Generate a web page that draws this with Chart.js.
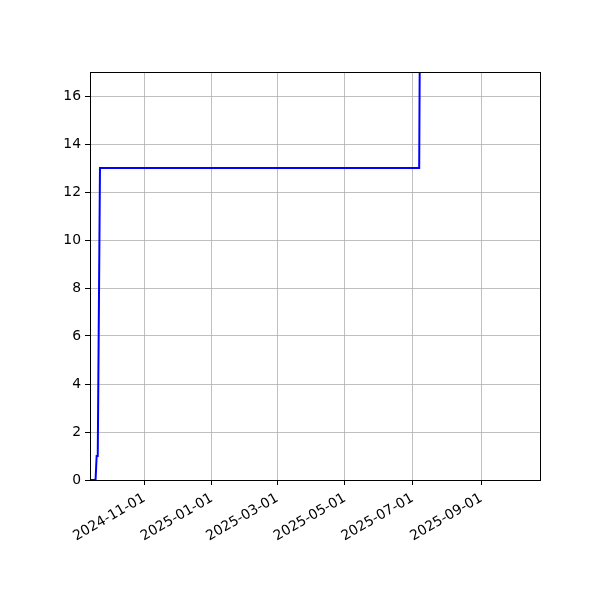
<!DOCTYPE html>
<html>
<head>
<meta charset="utf-8">
<script src="https://cdn.jsdelivr.net/npm/chart.js@4"></script>
<style>
  html, body { margin: 0; padding: 0; background: #fff; }
  #c { display: block; }
</style>
</head>
<body>
<canvas id="c" width="600" height="600"></canvas>
<script>
// ---- data ----
const dates  = ['2024-09-13', '2024-09-18', '2024-09-19', '2024-09-20', '2024-09-22', '2025-07-07', '2025-07-08'];
const values = [0, 0, 1, 1, 13, 13, 22];
const xTickLabels = ['2024-11-01', '2025-01-01', '2025-03-01', '2025-05-01', '2025-07-01', '2025-09-01'];
const yTickValues = [0, 2, 4, 6, 8, 10, 12, 14, 16];
const xRange = ['2024-09-13', '2025-10-24'];
const yRange = [0, 17];

const points = dates.map((d, i) => ({ x: Date.parse(d), y: values[i] }));

const frame = {
  id: 'frame',
  afterDraw(chart) {
    const a = chart.chartArea, ctx = chart.ctx;
    ctx.save();
    ctx.strokeStyle = '#000';
    ctx.lineWidth = 1;
    ctx.strokeRect(Math.round(a.left) + 0.5, Math.round(a.top) + 0.5,
                   Math.round(a.right - a.left), Math.round(a.bottom - a.top));
    ctx.restore();
  }
};

const font = { family: 'DejaVu Sans', size: 13.9 };

new Chart(document.getElementById('c'), {
  type: 'line',
  data: {
    datasets: [{
      data: points,
      borderColor: '#0000ff',
      borderWidth: 2,
      pointRadius: 0,
      fill: false,
      tension: 0
    }]
  },
  options: {
    responsive: false,
    animation: false,
    devicePixelRatio: 1,
    layout: { padding: { left: 0, right: 60, top: 72, bottom: 0 } },
    plugins: { legend: { display: false }, tooltip: { enabled: false } },
    scales: {
      x: {
        type: 'linear',
        min: Date.parse(xRange[0]),
        max: Date.parse(xRange[1]),
        afterBuildTicks(scale) {
          scale.ticks = xTickLabels.map(s => ({ value: Date.parse(s) }));
        },
        afterFit(scale) { scale.height = 120; },
        ticks: {
          autoSkip: false,
          maxRotation: 30,
          minRotation: 30,
          color: '#000',
          font: font,
          padding: 5,
          callback: (v) => new Date(v).toISOString().slice(0, 10)
        },
        grid: { color: '#b0b0b0', lineWidth: 0.8, tickColor: '#000', tickLength: 5, tickWidth: 1 },
        border: { display: true, color: '#000' }
      },
      y: {
        min: yRange[0],
        max: yRange[1],
        afterBuildTicks(scale) {
          scale.ticks = yTickValues.map(v => ({ value: v }));
        },
        ticks: { color: '#000', font: font, padding: 4 },
        afterFit(scale) { scale.width = 90; },
        grid: { color: '#b0b0b0', lineWidth: 0.8, tickColor: '#000', tickLength: 5, tickWidth: 1 },
        border: { display: true, color: '#000' }
      }
    }
  },
  plugins: [frame]
});
</script>
</body>
</html>
